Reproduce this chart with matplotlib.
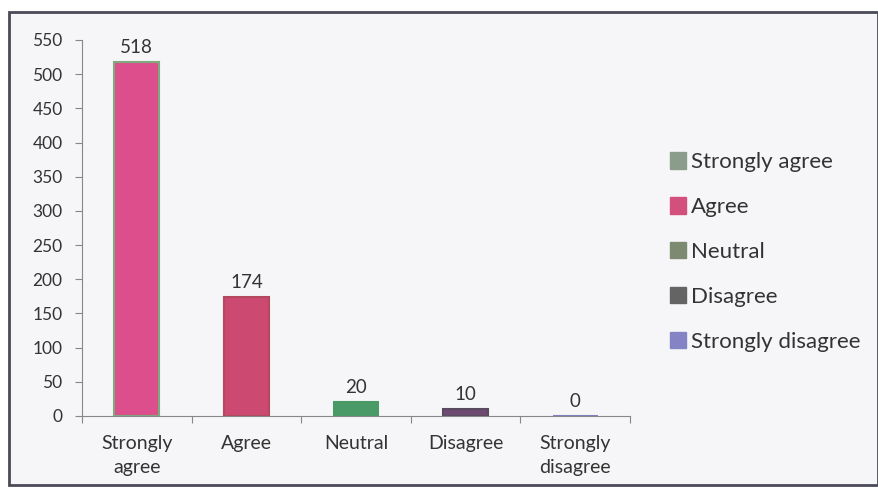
import matplotlib
matplotlib.use("Agg")
import matplotlib.pyplot as plt
from matplotlib.patches import Rectangle, Patch

categories = ["Strongly\nagree", "Agree", "Neutral", "Disagree", "Strongly\ndisagree"]
legend_labels = ["Strongly agree", "Agree", "Neutral", "Disagree", "Strongly disagree"]
counts = [518, 174, 20, 10, 0]
bar_colors = ["#dc4f8c", "#cc4a72", "#4a9a68", "#6e4a72", "#8080c0"]
edge_colors = ["#7faa80", "#b4485e", "#4a9a68", "#5a4a60", "#8080c0"]
legend_colors = ["#8c9c8a", "#d4507c", "#7c8a72", "#646464", "#8484c4"]

plt.rcParams["font.family"] = ["Lato", "DejaVu Sans"]

fig = plt.figure(figsize=(8.79, 4.93), dpi=100)
fig.patch.set_facecolor("#ffffff")

# cornice esterna del grafico
frame = Rectangle((9 / 879, 1 - 485 / 493), 869 / 879, 473 / 493,
                  transform=fig.transFigure, facecolor="#f6f6f8",
                  edgecolor="#4a4a58", linewidth=2, zorder=-5)
fig.patches.append(frame)

ax = fig.add_axes([82 / 879, 1 - 416 / 493, 548 / 879, 376 / 493])
ax.set_facecolor("none")
ax.set_zorder(2)

x = list(range(len(categories)))
bars = ax.bar(x, counts, width=0.41, color=bar_colors, edgecolor=edge_colors, linewidth=1.5, zorder=2)
for xi, v in zip(x, counts):
    ax.text(xi, v + 9, str(v), ha="center", va="bottom", fontsize=13.5, color="#333333")

ax.set_xlim(-0.5, len(categories) - 0.5)
ax.set_ylim(0, 550)
ax.set_yticks(range(0, 551, 50))
ax.tick_params(axis="y", labelsize=12.5, colors="#333333", length=5, color="#888888", pad=9)

# tick delle categorie ai bordi, stile Excel
ax.set_xticks([i - 0.5 for i in range(len(categories) + 1)], minor=False)
ax.set_xticklabels([])
ax.set_xticks(x, minor=True)
ax.set_xticklabels(categories, minor=True, fontsize=14, color="#333333", linespacing=1.45)
ax.tick_params(axis="x", which="major", length=5, color="#888888")
ax.tick_params(axis="x", which="minor", length=0, pad=14)

for s in ["top", "right"]:
    ax.spines[s].set_visible(False)
for s in ["left", "bottom"]:
    ax.spines[s].set_color("#888888")

handles = [Patch(facecolor=c, edgecolor=c) for c in legend_colors]
fig.legend(handles, legend_labels, loc="center left", bbox_to_anchor=(650 / 879, 1 - 252 / 493),
           frameon=False, fontsize=16, labelspacing=1.12, handlelength=0.7, handleheight=0.75,
           handletextpad=0.25, labelcolor="#333333")

fig.savefig("out.png", dpi=100, facecolor=fig.get_facecolor())
